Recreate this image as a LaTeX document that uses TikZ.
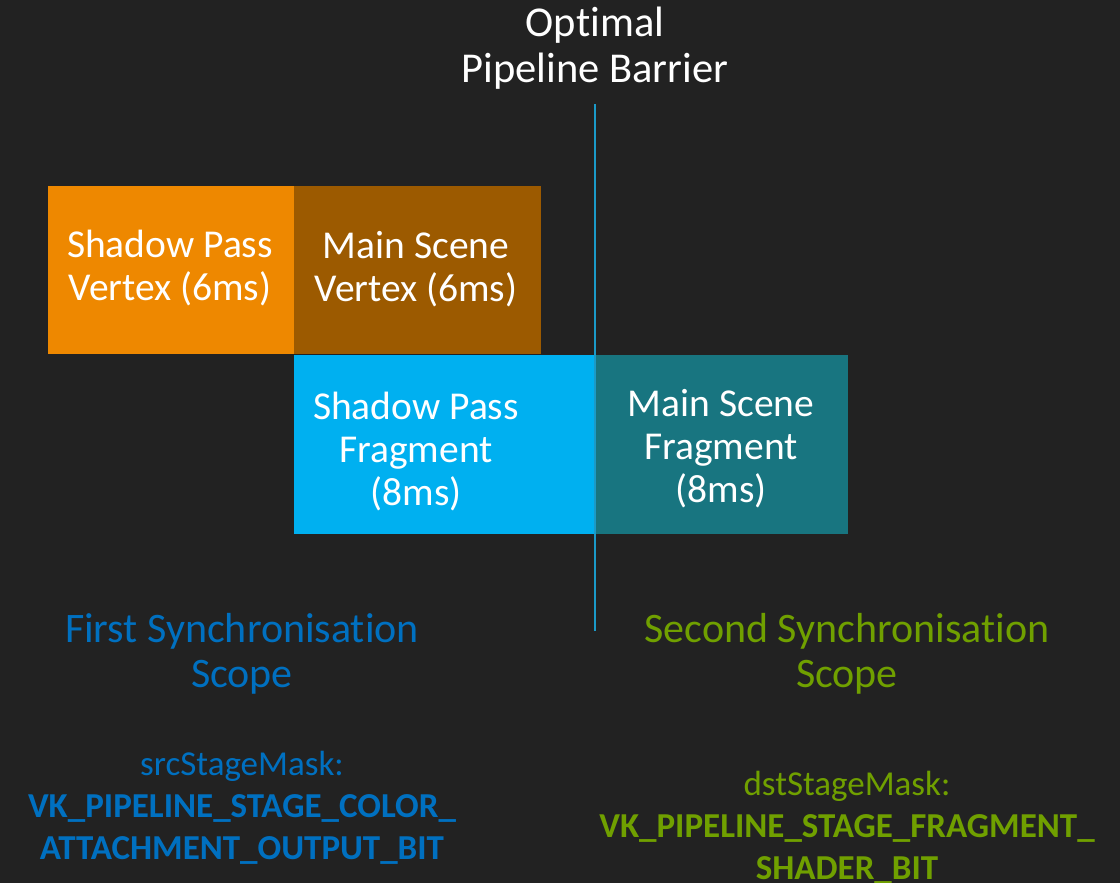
\documentclass[tikz,border=0pt]{standalone}
\usepackage{fontspec}
\setmainfont{Carlito}[Ligatures=NoCommon]
\definecolor{bgdark}{HTML}{222222}
\definecolor{vorange}{HTML}{EE8800}
\definecolor{vbrown}{HTML}{9C5A00}
\definecolor{fcyan}{HTML}{00B0F0}
\definecolor{fteal}{HTML}{187580}
\definecolor{barrier}{HTML}{1B9AC8}
\definecolor{srcblue}{HTML}{0070C0}
\definecolor{dstgreen}{HTML}{70A000}
\tikzset{
  stagebox/.style={fill=#1, draw=none, inner sep=0pt, anchor=north west},
  stagetext/.style={text=white, align=center, font=\fontsize{39.5}{43}\selectfont},
  titletext/.style={text=white, align=center, font=\fontsize{42.5}{46}\selectfont},
  scopetext/.style={text=#1, align=center, font=\fontsize{42}{45}\selectfont},
  masktext/.style={text=#1, align=center, font=\fontsize{35}{42}\selectfont},
}
\begin{document}
\begin{tikzpicture}[x=1pt,y=-1pt]
  % canvas
  \fill[bgdark] (0,0) rectangle (1120,883);
  \useasboundingbox (0,0) rectangle (1120,883);

  % vertex stages
  \node[stagebox=vorange, minimum width=246pt, minimum height=168pt] (spvbox) at (48,186) {};
  \node[stagebox=vbrown, minimum width=247pt, minimum height=168pt] (msvbox) at (294,186) {};
  % fragment stages
  \node[stagebox=fcyan, minimum width=301pt, minimum height=179pt] (spfbox) at (294,355) {};
  \node[stagebox=fteal, minimum width=253pt, minimum height=179pt] (msfbox) at (595,355) {};

  % stage labels
  \node[stagetext] (spv) at (170,268) {Shadow Pass\\Vertex (6ms)};
  \node[stagetext] (msv) at (416,269) {Main Scene\\Vertex (6ms)};
  \node[stagetext] (spf) at (416,452) {Shadow Pass\\Fragment\\(8ms)};
  \node[stagetext] (msf) at (721,449) {Main Scene\\Fragment\\(8ms)};

  % barrier
  \node[titletext] (title) at (595,48) {Optimal\\Pipeline Barrier};
  \coordinate (bartop) at (595,104);
  \coordinate (barbot) at (595,631);
  \draw[barrier, line width=2.5pt] (bartop) -- (barbot);

  % synchronisation scopes
  \node[scopetext=srcblue] (firstscope) at (242,654) {First Synchronisation\\Scope};
  \node[scopetext=dstgreen] (secondscope) at (847,654) {Second Synchronisation\\Scope};

  % stage masks
  \node[masktext=srcblue] (srcmask) at (242,808) {srcStageMask:\\\textbf{VK\_PIPELINE\_STAGE\_COLOR\_}\\\textbf{ATTACHMENT\_OUTPUT\_BIT}};
  \node[masktext=dstgreen] (dstmask) at (847,828) {dstStageMask:\\\textbf{VK\_PIPELINE\_STAGE\_FRAGMENT\_}\\\textbf{SHADER\_BIT}};
\end{tikzpicture}
\end{document}
